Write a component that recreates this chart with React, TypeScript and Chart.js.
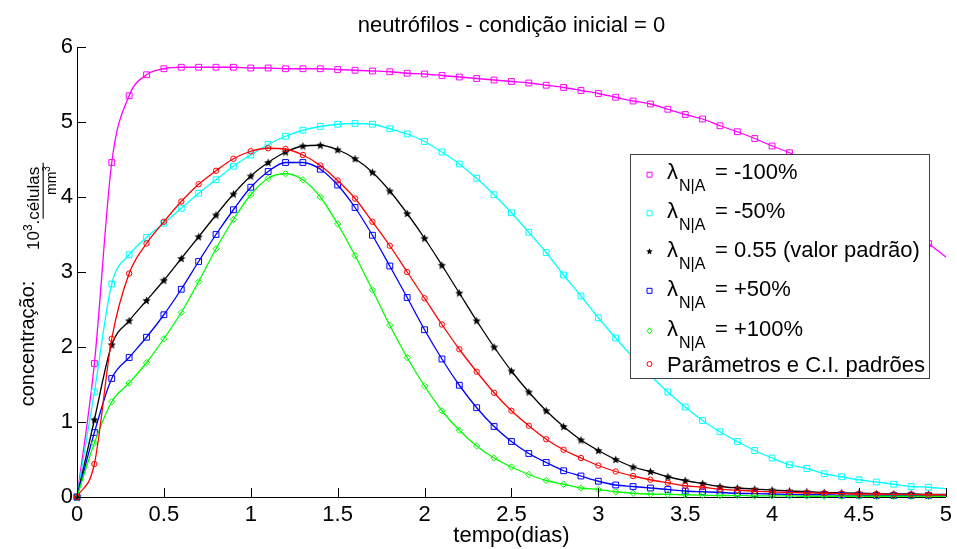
import React, { useEffect, useRef } from "react";
import { Chart, registerables } from "chart.js";

Chart.register(...registerables);

const FF = "'Liberation Sans', Arial, Helvetica, sans-serif";

// ---------------- data ----------------
const T = [
  0, 0.1, 0.2, 0.3, 0.4, 0.5, 0.6, 0.7, 0.8, 0.9,
  1.0, 1.1, 1.2, 1.3, 1.4, 1.5, 1.6, 1.7, 1.8, 1.9,
  2.0, 2.1, 2.2, 2.3, 2.4, 2.5, 2.6, 2.7, 2.8, 2.9,
  3.0, 3.1, 3.2, 3.3, 3.4, 3.5, 3.6, 3.7, 3.8, 3.9,
  4.0, 4.1, 4.2, 4.3, 4.4, 4.5, 4.6, 4.7, 4.8, 4.9, 5.0,
];

const lambdaMinus100 = [
  0, 1.78, 4.46, 5.35, 5.63, 5.71, 5.73, 5.73, 5.73, 5.73,
  5.72, 5.72, 5.71, 5.71, 5.71, 5.70, 5.69, 5.68, 5.67, 5.65,
  5.64, 5.62, 5.60, 5.58, 5.56, 5.54, 5.52, 5.49, 5.46, 5.42,
  5.38, 5.33, 5.28, 5.24, 5.17, 5.10, 5.04, 4.95, 4.87, 4.78,
  4.68, 4.59, 4.47, 4.35, 4.21, 4.07, 3.91, 3.74, 3.56, 3.38, 3.20,
];

const lambdaMinus50 = [
  0, 1.40, 2.84, 3.23, 3.46, 3.65, 3.85, 4.05, 4.23, 4.41,
  4.56, 4.70, 4.81, 4.89, 4.94, 4.97, 4.98, 4.97, 4.91, 4.84,
  4.74, 4.60, 4.44, 4.25, 4.03, 3.79, 3.53, 3.26, 2.96, 2.68,
  2.39, 2.12, 1.86, 1.62, 1.40, 1.20, 1.02, 0.87, 0.74, 0.62,
  0.52, 0.43, 0.38, 0.31, 0.27, 0.23, 0.20, 0.17, 0.14, 0.13, 0.11,
];

const lambdaDefault = [
  0, 1.03, 2.03, 2.35, 2.62, 2.89, 3.18, 3.47, 3.76, 4.04,
  4.28, 4.46, 4.60, 4.68, 4.69, 4.63, 4.51, 4.33, 4.08, 3.78,
  3.45, 3.09, 2.72, 2.35, 2.00, 1.68, 1.40, 1.15, 0.94, 0.76,
  0.62, 0.50, 0.40, 0.34, 0.27, 0.22, 0.18, 0.14, 0.12, 0.105,
  0.093, 0.08, 0.07, 0.06, 0.055, 0.05, 0.045, 0.04, 0.04, 0.035, 0.035,
];

const lambdaPlus50 = [
  0, 0.86, 1.58, 1.86, 2.13, 2.43, 2.77, 3.14, 3.50, 3.83,
  4.13, 4.34, 4.46, 4.46, 4.37, 4.16, 3.86, 3.49, 3.08, 2.66,
  2.23, 1.84, 1.49, 1.19, 0.94, 0.74, 0.58, 0.46, 0.35, 0.28,
  0.21, 0.16, 0.14, 0.12, 0.10, 0.08, 0.07, 0.06, 0.05, 0.045,
  0.04, 0.035, 0.03, 0.03, 0.025, 0.025, 0.02, 0.02, 0.02, 0.02, 0.02,
];

const lambdaPlus100 = [
  0, 0.72, 1.27, 1.52, 1.79, 2.11, 2.46, 2.87, 3.31, 3.70,
  4.03, 4.25, 4.31, 4.23, 4.00, 3.64, 3.22, 2.76, 2.29, 1.86,
  1.48, 1.15, 0.89, 0.68, 0.52, 0.40, 0.30, 0.22, 0.17, 0.12,
  0.10, 0.07, 0.05, 0.04, 0.035, 0.03, 0.025, 0.02, 0.02, 0.015,
  0.015, 0.015, 0.01, 0.01, 0.01, 0.01, 0.01, 0.01, 0.01, 0.01, 0.01,
];

const defaultParams = [
  0, 0.44, 2.11, 2.98, 3.38, 3.67, 3.94, 4.17, 4.35, 4.51,
  4.61, 4.65, 4.64, 4.56, 4.42, 4.22, 3.98, 3.67, 3.35, 3.00,
  2.65, 2.30, 1.97, 1.67, 1.39, 1.15, 0.95, 0.77, 0.63, 0.52,
  0.42, 0.34, 0.28, 0.23, 0.19, 0.15, 0.13, 0.105, 0.09, 0.078,
  0.067, 0.06, 0.055, 0.05, 0.045, 0.04, 0.04, 0.035, 0.035, 0.03, 0.03,
];

const SERIES_VALUES = [lambdaMinus100, lambdaMinus50, lambdaDefault, lambdaPlus50, lambdaPlus100, defaultParams];
const SERIES_TEXT = ["= -100%", "= -50%", "= 0.55 (valor padrão)", "= +50%", "= +100%", "Parâmetros e C.I. padrões"];
const SERIES_HAS_LAMBDA = [true, true, true, true, true, false];
const SERIES_COLORS = ["#ff00ff", "#00ffff", "#000000", "#0000ff", "#00ff00", "#ff0000"];
const SERIES_MARKERS = ["square", "square", "star", "square", "diamond", "circle"];

const X_TICKS = [0, 0.5, 1, 1.5, 2, 2.5, 3, 3.5, 4, 4.5, 5];
const X_TICK_LABELS = ["0", "0.5", "1", "1.5", "2", "2.5", "3", "3.5", "4", "4.5", "5"];
const Y_TICKS = [0, 1, 2, 3, 4, 5, 6];
const Y_TICK_LABELS = ["0", "1", "2", "3", "4", "5", "6"];

const TITLE = "neutrófilos - condição inicial = 0";
const X_LABEL = "tempo(dias)";
const Y_LABEL_MAIN = "concentração:";
const LAMBDA = "λ";
const LAMBDA_SUB = "N|A";

// ---------------- helpers ----------------
function makeStar(size: number, color: string) {
  const c = document.createElement("canvas");
  c.width = size;
  c.height = size;
  const g = c.getContext("2d")!;
  g.fillStyle = color;
  g.beginPath();
  const cx = size / 2, cy = size / 2 + 0.4;
  const R = size / 2 - 0.2, r = R * 0.45;
  for (let i = 0; i < 10; i++) {
    const a = -Math.PI / 2 + (i * Math.PI) / 5;
    const rad = i % 2 === 0 ? R : r;
    const px = cx + rad * Math.cos(a), py = cy + rad * Math.sin(a);
    if (i === 0) g.moveTo(px, py); else g.lineTo(px, py);
  }
  g.closePath();
  g.fill();
  return c;
}

function drawMarker(ctx: CanvasRenderingContext2D, kind: string, x: number, y: number, color: string, s: number) {
  ctx.save();
  ctx.strokeStyle = color;
  ctx.fillStyle = color;
  ctx.lineWidth = 1;
  ctx.beginPath();
  if (kind === "square") {
    ctx.rect(x - s, y - s, 2 * s, 2 * s);
    ctx.stroke();
  } else if (kind === "circle") {
    ctx.arc(x, y, s, 0, Math.PI * 2);
    ctx.stroke();
  } else if (kind === "diamond") {
    ctx.moveTo(x, y - s - 0.5);
    ctx.lineTo(x + s, y);
    ctx.lineTo(x, y + s + 0.5);
    ctx.lineTo(x - s, y);
    ctx.closePath();
    ctx.stroke();
  } else {
    const R = s + 0.8, r = R * 0.45;
    for (let i = 0; i < 10; i++) {
      const a = -Math.PI / 2 + (i * Math.PI) / 5;
      const rad = i % 2 === 0 ? R : r;
      const px = x + rad * Math.cos(a), py = y + rad * Math.sin(a);
      if (i === 0) ctx.moveTo(px, py); else ctx.lineTo(px, py);
    }
    ctx.closePath();
    ctx.fill();
  }
  ctx.restore();
}

const decorPlugin = {
  id: "decor",
  beforeDraw(chart: any) {
    const { ctx, width, height } = chart;
    ctx.save();
    ctx.fillStyle = "#ffffff";
    ctx.fillRect(0, 0, width, height);
    ctx.restore();
  },
  afterDatasetsDraw(chart: any) {
    const { ctx, chartArea, scales } = chart;
    const xs = scales.x, ys = scales.y;
    ctx.save();
    ctx.strokeStyle = "#000";
    ctx.lineWidth = 1;
    ctx.beginPath();
    X_TICKS.forEach((v) => {
      const px = Math.round(xs.getPixelForValue(v)) + 0.5;
      ctx.moveTo(px, chartArea.bottom);
      ctx.lineTo(px, chartArea.bottom - 9);
    });
    Y_TICKS.forEach((v) => {
      const py = Math.round(ys.getPixelForValue(v)) + 0.5;
      ctx.moveTo(chartArea.left, py);
      ctx.lineTo(chartArea.left + 9, py);
    });
    ctx.stroke();
    ctx.restore();
  },
  afterDraw(chart: any) {
    const { ctx, chartArea } = chart;
    ctx.save();
    ctx.fillStyle = "#000";
    // title
    ctx.font = `22px ${FF}`;
    ctx.textAlign = "center";
    ctx.textBaseline = "alphabetic";
    ctx.fillText(TITLE, (chartArea.left + chartArea.right) / 2, 31.5);
    // x label
    ctx.fillText(X_LABEL, (chartArea.left + chartArea.right) / 2, 541.5);

    // y label main
    ctx.save();
    ctx.translate(34, 343.5);
    ctx.rotate(-Math.PI / 2);
    ctx.font = `20px ${FF}`;
    ctx.textAlign = "center";
    ctx.fillText(Y_LABEL_MAIN, 0, 0);
    ctx.restore();

    // y label fraction 10^3.células / mm^3
    ctx.save();
    ctx.translate(39, 250);
    ctx.rotate(-Math.PI / 2);
    ctx.textAlign = "left";
    ctx.font = `17px ${FF}`;
    ctx.fillText("10", 0, 0);
    let u = ctx.measureText("10").width;
    ctx.font = `12px ${FF}`;
    ctx.fillText("3", u, -7);
    u += ctx.measureText("3").width;
    ctx.font = `17px ${FF}`;
    ctx.fillText(".", u, 0);
    u += ctx.measureText(".").width;
    ctx.fillText("células", u, 0);
    const numStart = u;
    const numW = ctx.measureText("células").width;
    ctx.fillRect(numStart + 1, 3.6, numW + 3, 1.1);
    ctx.font = `14px ${FF}`;
    const mmStart = 55;
    ctx.fillText("mm", mmStart, 16.5);
    const mmW = ctx.measureText("mm").width;
    ctx.font = `10px ${FF}`;
    ctx.fillText("3", mmStart + mmW, 10.5);
    ctx.restore();

    // legend
    const bx = 630.5, by = 154.5, bw = 299, bh = 224;
    ctx.fillStyle = "#ffffff";
    ctx.fillRect(bx, by, bw, bh);
    ctx.strokeStyle = "#404040";
    ctx.lineWidth = 1;
    ctx.strokeRect(bx, by, bw, bh);
    const baselines = [179, 218, 256.5, 296, 336, 372];
    const markerY = [174.7, 213.3, 251.6, 290.8, 330.8, 364];
    ctx.fillStyle = "#000";
    ctx.textAlign = "left";
    SERIES_TEXT.forEach((txt, i) => {
      const b = baselines[i];
      const mk = SERIES_MARKERS[i];
      drawMarker(ctx, mk, 649.5, markerY[i], SERIES_COLORS[i], mk === "star" ? 2.6 : 2.5);
      ctx.fillStyle = "#000";
      if (SERIES_HAS_LAMBDA[i]) {
        ctx.font = `22px ${FF}`;
        ctx.fillText(LAMBDA, 667, b);
        ctx.font = `16px ${FF}`;
        ctx.fillText(LAMBDA_SUB, 679, b + 12);
        ctx.font = `22px ${FF}`;
        ctx.fillText(txt, 715, b);
      } else {
        ctx.font = `22px ${FF}`;
        ctx.fillText(txt, 667, b);
      }
    });
    ctx.restore();
  },
};

export default function App() {
  const ref = useRef<HTMLCanvasElement | null>(null);

  useEffect(() => {
    const canvas = ref.current;
    if (!canvas) return;
    const star = makeStar(9, "#000000");
    const last = T.length - 1;
    const datasets = SERIES_VALUES.map((vals, i) => {
      const mk = SERIES_MARKERS[i];
      const style = mk === "square" ? "rect" : mk === "diamond" ? "rectRot" : mk === "circle" ? "circle" : star;
      const r = mk === "square" ? 4.1 : mk === "diamond" ? 3.2 : mk === "circle" ? 2.7 : 4.5;
      return {
        label: SERIES_TEXT[i],
        data: vals.map((v, k) => ({ x: T[k], y: v })),
        borderColor: SERIES_COLORS[i],
        borderWidth: 1.3,
        backgroundColor: "rgba(0,0,0,0)",
        pointStyle: style as any,
        pointRadius: (c: any) => (c.dataIndex === last ? 0 : r),
        pointBorderColor: SERIES_COLORS[i],
        pointBackgroundColor: "rgba(0,0,0,0)",
        pointBorderWidth: 1,
        pointHoverRadius: 0,
        cubicInterpolationMode: "monotone" as const,
        fill: false,
        clip: false as any,
        order: SERIES_VALUES.length - i,
      };
    });

    Chart.defaults.font.family = FF;
    const chart = new Chart(canvas, {
      type: "line",
      data: { datasets },
      options: {
        animation: false,
        responsive: false,
        events: [],
        layout: { padding: { left: 0, top: 47, right: 8, bottom: 0 } },
        plugins: { legend: { display: false }, title: { display: false }, tooltip: { enabled: false } },
        scales: {
          x: {
            type: "linear",
            min: 0,
            max: 5,
            grid: { display: false, drawTicks: false },
            border: { display: true, color: "#000", width: 1 },
            afterBuildTicks: (s: any) => { s.ticks = X_TICKS.map((v) => ({ value: v })); },
            afterFit: (s: any) => { s.height = 52; },
            ticks: {
              autoSkip: false,
              maxRotation: 0,
              color: "#000",
              padding: 5,
              font: { size: 22, family: FF },
              callback: (v: any) => { const k = X_TICKS.indexOf(Number(v)); return k >= 0 ? X_TICK_LABELS[k] : ""; },
            },
          },
          y: {
            type: "linear",
            min: 0,
            max: 6,
            grid: { display: false, drawTicks: false },
            border: { display: true, color: "#000", width: 1 },
            afterBuildTicks: (s: any) => { s.ticks = Y_TICKS.map((v) => ({ value: v })); },
            afterFit: (s: any) => { s.width = 77; },
            ticks: {
              autoSkip: false,
              color: "#000",
              padding: 4,
              font: { size: 22, family: FF },
              callback: (v: any) => { const k = Y_TICKS.indexOf(Number(v)); return k >= 0 ? Y_TICK_LABELS[k] : ""; },
            },
          },
        },
      },
      plugins: [decorPlugin],
    });
    return () => chart.destroy();
  }, []);

  return (
    <div style={{ position: "absolute", left: 0, top: 0, width: 957, height: 549, background: "#fff" }}>
      <canvas ref={ref} width={957} height={549} style={{ display: "block", width: 957, height: 549 }} />
    </div>
  );
}
